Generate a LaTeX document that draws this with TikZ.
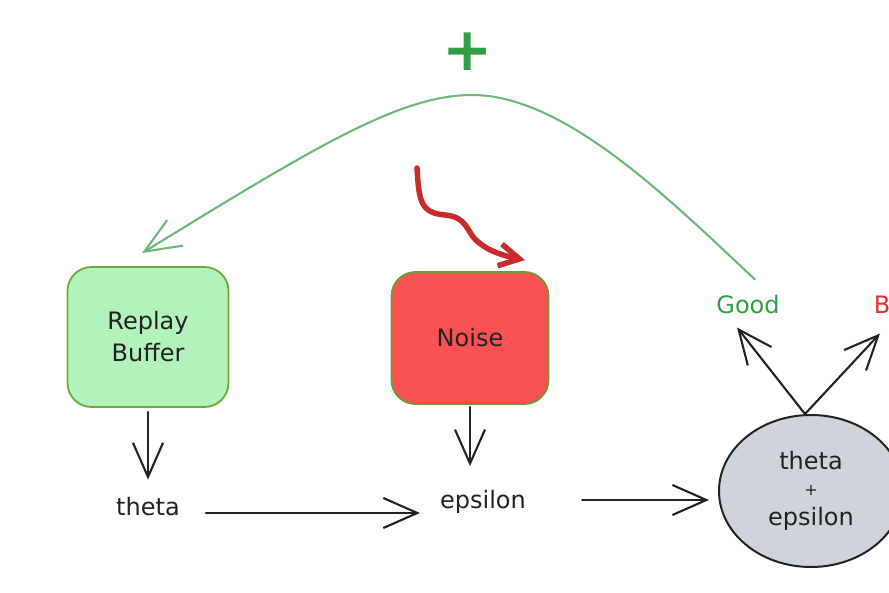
\documentclass[tikz,border=0pt]{standalone}
\usepackage{fontspec}
\setmainfont{DejaVu Sans}
\usetikzlibrary{arrows.meta,shapes.geometric}
\definecolor{ink}{HTML}{222222}
\definecolor{rbfill}{HTML}{B2F2BB}
\definecolor{rbdraw}{HTML}{6AAB3A}
\definecolor{nzfill}{HTML}{FA5252}
\definecolor{nzdraw}{HTML}{6B9B37}
\definecolor{ellfill}{HTML}{CED4DA}
\definecolor{arcgreen}{HTML}{6DB97C}
\definecolor{goodgreen}{HTML}{2F9E44}
\definecolor{badred}{HTML}{E03131}
\definecolor{squig}{HTML}{C92A2A}
\begin{document}
\begin{tikzpicture}[x=1pt,y=-1pt,
  every node/.style={font=\fontsize{24}{32}\selectfont, inner sep=0pt, text=ink},
  arr/.style={draw=ink, line width=2.1pt, line cap=round, line join=round,
    -{Straight Barb[length=34pt,width=30pt]}},
  boxnode/.style={rounded corners=24pt, line width=1.8pt, align=center},
  greenarc/.style={draw=arcgreen, line width=2.1pt, line cap=round, line join=round,
    -{Straight Barb[length=36pt,width=30pt]}},
  squiggle/.style={draw=squig, line width=5.5pt, line cap=round, line join=round,
    -{Straight Barb[length=20pt,width=22pt]}}]
\useasboundingbox (0,0) rectangle (889,593);
\clip (0,0) rectangle (889,593);

% boxes
\node[boxnode, fill=rbfill, draw=rbdraw, minimum width=161pt, minimum height=140pt] (rb) at (148,337) {Replay\\Buffer};
\node[boxnode, fill=nzfill, draw=nzdraw, minimum width=157pt, minimum height=132pt] (nz) at (470,338) {Noise};

% text nodes
\node (theta) at (148,507) {theta};
\node (eps) at (483,502) {epsilon};
\node[ellipse, fill=ellfill, draw=ink, line width=2pt, minimum width=184pt, minimum height=152pt, align=center, inner sep=0pt] (ell) at (811,491)
  {theta\\[-6pt]{\fontsize{16}{20}\selectfont +}\\[-2pt]epsilon};
\node[text=goodgreen] (good) at (748,305) {Good};
\node[text=badred] (bad) at (897,305) {Bad};
\node[text=goodgreen, font=\fontsize{60}{60}\selectfont\bfseries] (plus) at (468,52) {+};

% arrows
\draw[arr, shorten <=4pt, shorten >=18pt] (rb.south) -- (theta.north);
\draw[arr, shorten <=26pt, shorten >=20pt] ([shift={(0,6)}]theta.east) -- ([shift={(0,6)}]theta.east -| eps.west);
\draw[arr, shorten <=2pt, shorten >=24pt] (nz.south) -- (nz.south |- eps.north);
\draw[arr, shorten <=56pt, shorten >=9pt] ([shift={(0,-2)}]eps.east) -- ([shift={(0,-2)}]eps.east -| ell.west);
\draw[arr] ([shift={(-6,0)}]ell.north) -- ([shift={(-11,13)}]good.south);
\draw[arr] ([shift={(-6,0)}]ell.north) -- ([shift={(-17,19)}]bad.south);

% green feedback arc
\draw[greenarc] ([shift={(7,-16)}]good.north) .. controls (670,200) and (565,95) .. (472,95)
  .. controls (400,95) and (315,147) .. ([shift={(-6,-13)}]rb.north);

% red squiggle
\coordinate (sqend) at ([shift={(55,-11)}]nz.north);
\draw[squiggle] (417,168) .. controls (419,200) and (420,213) .. (445,215)
  .. controls (468,217) and (466,232) .. (478,242)
  .. controls (490,252) and (505,256) .. (sqend);
\end{tikzpicture}
\end{document}
